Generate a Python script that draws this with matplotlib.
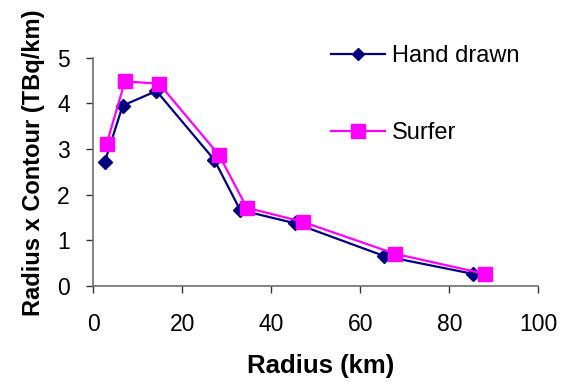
import matplotlib
matplotlib.use("Agg")
import matplotlib.pyplot as plt
from matplotlib.lines import Line2D

plt.rcParams['font.family'] = ['Liberation Sans', 'DejaVu Sans']

# Radius (km) and radius x contour (TBq/km) for each method
hand_radius = [2.6, 6.6, 14.2, 27.2, 33.0, 45.3, 65.4, 85.3]
hand_value = [2.72, 3.95, 4.27, 2.76, 1.66, 1.37, 0.65, 0.26]
surfer_radius = [3.0, 7.1, 14.8, 28.3, 34.5, 47.1, 67.8, 88.0]
surfer_value = [3.11, 4.48, 4.43, 2.86, 1.71, 1.40, 0.70, 0.26]

x_ticks = [0, 20, 40, 60, 80, 100]
y_ticks = [0, 1, 2, 3, 4, 5]

navy = '#000080'
magenta = '#FF00FF'
axis_grey = '#6e6e6e'

fig = plt.figure(figsize=(5.61, 3.86), dpi=100)
ax = fig.add_axes([0.1663, 0.2598, 0.7932, 0.5907])

ax.plot(hand_radius, hand_value, color=navy, lw=1.6, marker='D',
        markersize=6.8, markerfacecolor=navy, markeredgecolor=navy,
        label='Hand drawn')
ax.plot(surfer_radius, surfer_value, color=magenta, lw=1.6, marker='s',
        markersize=9.6, markerfacecolor=magenta, markeredgecolor=magenta,
        label='Surfer')

ax.set_xlim(0, 100)
ax.set_ylim(0, 5)
ax.set_xticks(x_ticks)
ax.set_yticks(y_ticks)

for side in ('top', 'right'):
    ax.spines[side].set_visible(False)
for side in ('left', 'bottom'):
    ax.spines[side].set_color(axis_grey)
    ax.spines[side].set_linewidth(1.2)

ax.tick_params(axis='both', direction='out', length=5, width=1.0,
               color='#333333', labelsize=16.5, labelcolor='black')
ax.tick_params(axis='x', pad=15)
ax.tick_params(axis='y', pad=12)

ax.set_xlabel('Radius (km)', fontsize=18.5, fontweight='bold')
ax.set_ylabel('Radius x Contour (TBq/km)', fontsize=17, fontweight='bold')
ax.xaxis.set_label_coords(0.51, -0.30)
ax.yaxis.set_label_coords(-0.108, 0.54)

handles = [
    Line2D([], [], color=navy, lw=1.6, marker='D', markersize=6.5,
           markerfacecolor=navy, markeredgecolor=navy),
    Line2D([], [], color=magenta, lw=1.6, marker='s', markersize=9.5,
           markerfacecolor=magenta, markeredgecolor=magenta),
]
leg = ax.legend(handles, ['Hand drawn', 'Surfer'], loc='upper left',
                bbox_to_anchor=(0.512, 1.095), frameon=False, fontsize=17,
                handlelength=2.3, handletextpad=0.3, labelspacing=2.3,
                borderaxespad=0)

fig.savefig('out.png', dpi=100)
